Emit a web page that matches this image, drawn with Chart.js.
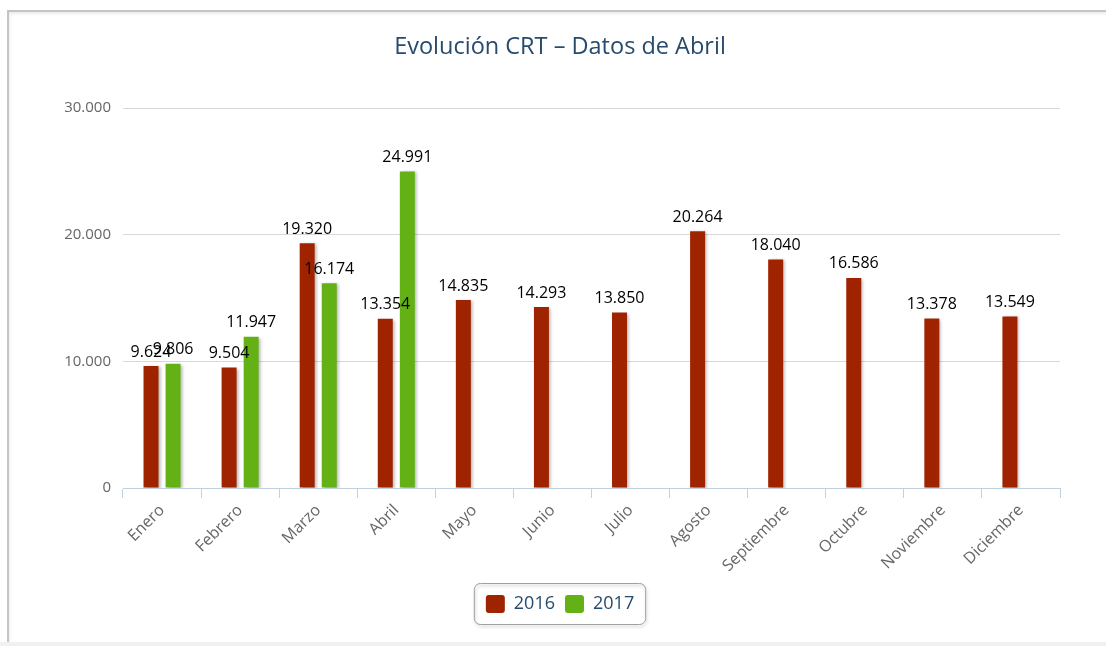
<!DOCTYPE html>
<html><head><meta charset="utf-8">
<script src="https://cdn.jsdelivr.net/npm/chart.js@4.4.1/dist/chart.umd.min.js"></script>
<style>
html,body{margin:0;padding:0;background:#fff;width:1106px;height:646px;overflow:hidden}
#frame{position:absolute;left:7px;top:10px;width:1200px;height:631px;border-left:2px solid #c4c4c4;border-top:2px solid #c4c4c4;box-shadow:inset 1px 2px 3px rgba(0,0,0,0.08)}
#foot{position:absolute;left:0;top:642px;width:1106px;height:4px;background:#f1f1f1}
#wrap{position:absolute;left:0;top:0;width:1106px;height:646px}
</style></head>
<body><div id="frame"></div><div id="foot"></div><div id="wrap"><canvas id="c"></canvas></div>
<script>
const categories = ['Enero','Febrero','Marzo','Abril','Mayo','Junio','Julio','Agosto','Septiembre','Octubre','Noviembre','Diciembre'];
const values2016 = [9624, 9504, 19320, 13354, 14835, 14293, 13850, 20264, 18040, 16586, 13378, 13549];
const values2017 = [9806, 11947, 16174, 24991, null, null, null, null, null, null, null, null];
const seriesNames = ['2016', '2017'];
const yTickValues = [0, 10000, 20000, 30000];
const chartTitle = 'Evolución CRT – Datos de Abril';

function fmt(v){ return String(v).replace(/\B(?=(\d{3})+(?!\d))/g, '.'); }

const shadowPlugin = {
  id: 'barShadow',
  beforeDatasetDraw(chart){
    const ctx = chart.ctx; ctx.save();
    ctx.shadowColor = 'rgba(0,0,0,0.28)'; ctx.shadowBlur = 3; ctx.shadowOffsetX = 2; ctx.shadowOffsetY = 1;
  },
  afterDatasetDraw(chart){ chart.ctx.restore(); }
};

const labelPlugin = {
  id: 'valueLabels',
  afterDatasetsDraw(chart){
    const ctx = chart.ctx; ctx.save();
    ctx.font = '16px "Open Sans"'; ctx.fillStyle = '#000'; ctx.textAlign = 'center'; ctx.textBaseline = 'bottom';
    chart.data.datasets.forEach((ds, i) => {
      const meta = chart.getDatasetMeta(i);
      meta.data.forEach((el, j) => {
        const v = ds.data[j];
        if (v === null || v === undefined) return;
        ctx.fillText(fmt(v), el.x, el.y - 6);
      });
    });
    ctx.restore();
  }
};

const legendBoxPlugin = {
  id: 'legendBox',
  afterDraw(chart){
    const lg = chart.legend; if (!lg || !lg.legendHitBoxes || !lg.legendHitBoxes.length) return;
    const hb = lg.legendHitBoxes;
    let l = Infinity, r = -Infinity, t = Infinity, b = -Infinity;
    hb.forEach(h => { l = Math.min(l, h.left); r = Math.max(r, h.left + h.width); t = Math.min(t, h.top); b = Math.max(b, h.top + h.height); });
    const x = l - 11.5, y = t - 11.5, w = (r + 12) - (l - 11), hgt = (b + 12) - (t - 11);
    const ctx = chart.ctx; ctx.save();
    ctx.shadowColor = 'rgba(0,0,0,0.25)'; ctx.shadowBlur = 3; ctx.shadowOffsetX = 1; ctx.shadowOffsetY = 2;
    ctx.strokeStyle = '#a0a0a0'; ctx.lineWidth = 1;
    ctx.beginPath(); ctx.roundRect(x, y, w, hgt, 6); ctx.stroke();
    ctx.restore();
  }
};

new Chart(document.getElementById('c'), {
  type: 'bar',
  data: {
    labels: categories,
    datasets: [
      { label: seriesNames[0], data: values2016, backgroundColor: '#a02300', borderWidth: 0 },
      { label: seriesNames[1], data: values2017, backgroundColor: '#63b114', borderWidth: 0 }
    ]
  },
  options: {
    responsive: true, maintainAspectRatio: false, animation: false, devicePixelRatio: 1,
    categoryPercentage: 0.565, barPercentage: 0.68,
    layout: { padding: { left: 60, right: 46, top: 0, bottom: 23 } },
    plugins: {
      title: { display: true, text: chartTitle, color: '#274b6d', font: { family: 'Open Sans', size: 23.5, weight: 'normal', lineHeight: 1.2 }, padding: { top: 33, bottom: 46.8 } },
      legend: { position: 'bottom', labels: { color: '#274b6d', font: { family: 'Open Sans', size: 18 }, boxWidth: 19, boxHeight: 18, padding: 10, useBorderRadius: true, borderRadius: 3 } },
      tooltip: { enabled: false }
    },
    scales: {
      x: {
        grid: { drawOnChartArea: false, drawTicks: true, tickLength: 10, tickColor: '#c0d0e0', offset: true },
        border: { display: true, color: '#c0d0e0', width: 1 },
        ticks: { color: '#666', font: { family: 'Open Sans', size: 16 }, autoSkip: false, minRotation: 45, maxRotation: 45, padding: 3 },
        afterFit(s){ s.height = 97; }
      },
      y: {
        min: 0, max: 30000,
        afterBuildTicks(s){ s.ticks = yTickValues.map(v => ({ value: v })); },
        grid: { color: '#d8d8d8', drawTicks: false, lineWidth: 1 },
        border: { display: false },
        ticks: { color: '#666', font: { family: 'Open Sans', size: 15 }, padding: 12, callback: v => fmt(v) },
        afterFit(s){ s.width = 63; }
      }
    }
  },
  plugins: [shadowPlugin, labelPlugin, legendBoxPlugin]
});
</script>
</body></html>
